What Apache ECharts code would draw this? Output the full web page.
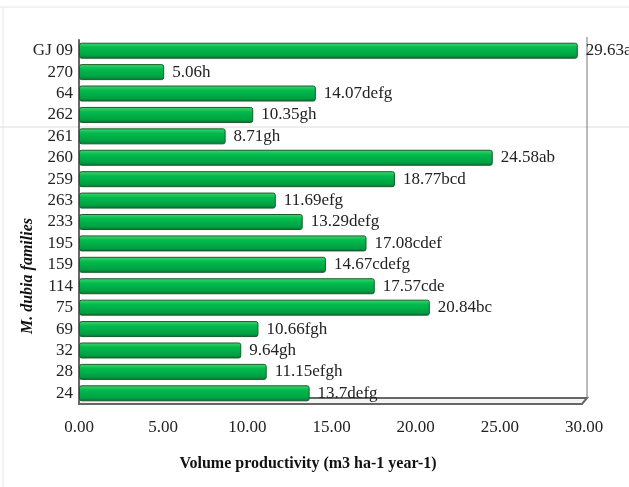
<!DOCTYPE html>
<html><head><meta charset="utf-8">
<script src="https://cdn.jsdelivr.net/npm/echarts@6/dist/echarts.min.js"></script>
<style>html,body{margin:0;padding:0;background:#fff}#c{width:629px;height:487px}</style>
</head><body><div id="c"></div>
<script>
const categories = ['GJ 09','270','64','262','261','260','259','263','233','195','159','114','75','69','32','28','24'];
const values = [29.63,5.06,14.07,10.35,8.71,24.58,18.77,11.69,13.29,17.08,14.67,17.57,20.84,10.66,9.64,11.15,13.7];
const groups = ['a','h','defg','gh','gh','ab','bcd','efg','defg','cdef','cdefg','cde','bc','fgh','gh','efgh','defg'];
const xTicks = {min:0, max:30, interval:5};

const chart = echarts.init(document.getElementById('c'), null, {renderer:'canvas'});
const serif = '"Liberation Serif", "DejaVu Serif", serif';
chart.setOption({
  animation:false,
  backgroundColor:'#fff',
  grid:{left:79, right:45, top:40, bottom:83},
  xAxis:{type:'value', min:xTicks.min, max:xTicks.max, interval:xTicks.interval,
    axisLine:{show:false}, axisTick:{show:false}, splitLine:{show:false},
    axisLabel:{formatter:v=>v.toFixed(2), color:'#222', fontFamily:serif, fontSize:17, margin:15}},
  yAxis:{type:'category', data:categories, inverse:true,
    axisLine:{show:true, lineStyle:{color:'#666', width:2}}, axisTick:{show:false},
    axisLabel:{interval:0, color:'#222', fontFamily:serif, fontSize:17, margin:6}},
  series:[{type:'bar', data:values, barWidth:16,
    itemStyle:{borderColor:'#1d5a2c', borderWidth:1, borderRadius:2,
      color:new echarts.graphic.LinearGradient(0,0,0,1,[
        {offset:0,color:'#46d86f'},{offset:0.3,color:'#00bb4d'},{offset:0.8,color:'#00a042'},{offset:1,color:'#0b6e2e'}])},
    label:{show:true, position:'right', distance:8, fontFamily:serif, fontSize:17, color:'#222',
      formatter:p=>String(values[p.dataIndex])+groups[p.dataIndex]}}],
  graphic:[
    {type:'line', shape:{x1:0,y1:7,x2:629,y2:7}, style:{stroke:'#e6e6e6', lineWidth:1}, silent:true},
    {type:'line', shape:{x1:3,y1:7,x2:3,y2:487}, style:{stroke:'#e6e6e6', lineWidth:1}, silent:true},
    {type:'line', shape:{x1:0,y1:127,x2:629,y2:127}, style:{stroke:'#dcdcdc', lineWidth:1}, silent:true},
    {type:'line', shape:{x1:587,y1:37,x2:587,y2:398}, style:{stroke:'#777', lineWidth:1}, silent:true},
    {type:'polyline', shape:{points:[[78,398],[587,398],[582,404],[78,404]]}, style:{stroke:'#666', lineWidth:2, fill:'#f4f4f4'}, silent:true, z:-1},
    {type:'text', x:308, y:464, style:{text:'Volume productivity (m3 ha-1 year-1)', font:'bold 16px "Liberation Serif", serif', fill:'#111', textAlign:'center', textVerticalAlign:'middle'}},
    {type:'text', rotation:Math.PI/2, x:28, y:276, style:{text:'M. dubia families', font:'italic bold 16px "Liberation Serif", serif', fill:'#111', textAlign:'center', textVerticalAlign:'middle'}}
  ]
});
</script></body></html>
